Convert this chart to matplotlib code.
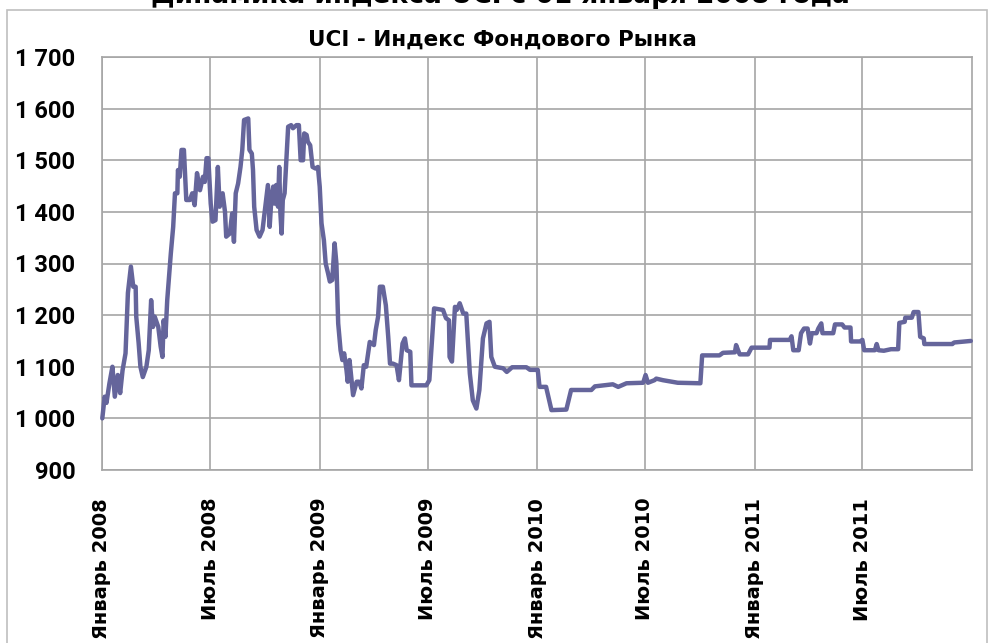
import matplotlib
matplotlib.use('Agg')
import matplotlib.pyplot as plt
from matplotlib.patches import Rectangle
import pandas as pd

# UCI index, values
dates = [
    '2008-01-02', '2008-01-06', '2008-01-09', '2008-01-14', '2008-01-19', '2008-01-23',
    '2008-01-28', '2008-02-01', '2008-02-05', '2008-02-10', '2008-02-14', '2008-02-19',
    '2008-02-23', '2008-02-27', '2008-02-28', '2008-03-03', '2008-03-06', '2008-03-10',
    '2008-03-16', '2008-03-20', '2008-03-24', '2008-03-27', '2008-03-30', '2008-04-05',
    '2008-04-09', '2008-04-12', '2008-04-14', '2008-04-17', '2008-04-20', '2008-04-23',
    '2008-04-26', '2008-04-30', '2008-05-03', '2008-05-07', '2008-05-08', '2008-05-11',
    '2008-05-14', '2008-05-18', '2008-05-22', '2008-05-28', '2008-06-01', '2008-06-05',
    '2008-06-09', '2008-06-14', '2008-06-19', '2008-06-22', '2008-06-25', '2008-06-28',
    '2008-07-02', '2008-07-05', '2008-07-10', '2008-07-14', '2008-07-17', '2008-07-22',
    '2008-07-26', '2008-07-28', '2008-08-03', '2008-08-07', '2008-08-10', '2008-08-13',
    '2008-08-17', '2008-08-21', '2008-08-24', '2008-08-27', '2008-09-03', '2008-09-05',
    '2008-09-09', '2008-09-11', '2008-09-13', '2008-09-17', '2008-09-22', '2008-09-27',
    '2008-10-01', '2008-10-03', '2008-10-06', '2008-10-09', '2008-10-12', '2008-10-15',
    '2008-10-17', '2008-10-20', '2008-10-23', '2008-10-25', '2008-10-27', '2008-10-29',
    '2008-10-31', '2008-11-03', '2008-11-06', '2008-11-09', '2008-11-14', '2008-11-17',
    '2008-11-23', '2008-11-27', '2008-11-30', '2008-12-04', '2008-12-06', '2008-12-10',
    '2008-12-12', '2008-12-16', '2008-12-20', '2008-12-25', '2008-12-29', '2009-01-01',
    '2009-01-04', '2009-01-08', '2009-01-11', '2009-01-15', '2009-01-18', '2009-01-22',
    '2009-01-26', '2009-01-29', '2009-02-01', '2009-02-05', '2009-02-08', '2009-02-11',
    '2009-02-15', '2009-02-17', '2009-02-20', '2009-02-26', '2009-03-04', '2009-03-08',
    '2009-03-12', '2009-03-16', '2009-03-20', '2009-03-26', '2009-04-02', '2009-04-05',
    '2009-04-09', '2009-04-12', '2009-04-17', '2009-04-22', '2009-04-26', '2009-04-29',
    '2009-05-04', '2009-05-10', '2009-05-14', '2009-05-17', '2009-05-20', '2009-05-24',
    '2009-05-27', '2009-06-02', '2009-06-04', '2009-06-29', '2009-07-04', '2009-07-08',
    '2009-07-12', '2009-07-27', '2009-08-01', '2009-08-06', '2009-08-07', '2009-08-11',
    '2009-08-16', '2009-08-19', '2009-08-24', '2009-08-30', '2009-09-04', '2009-09-10',
    '2009-09-15', '2009-09-21', '2009-09-26', '2009-10-02', '2009-10-08', '2009-10-13',
    '2009-10-16', '2009-10-22', '2009-11-05', '2009-11-11', '2009-11-20', '2009-12-14',
    '2009-12-20', '2010-01-02', '2010-01-05', '2010-01-16', '2010-01-25', '2010-02-19',
    '2010-02-27', '2010-04-02', '2010-04-08', '2010-05-08', '2010-05-17', '2010-05-31',
    '2010-06-28', '2010-07-02', '2010-07-06', '2010-07-17', '2010-07-20', '2010-07-31',
    '2010-08-25', '2010-10-02', '2010-10-05', '2010-11-03', '2010-11-09', '2010-11-29',
    '2010-12-01', '2010-12-07', '2010-12-21', '2010-12-27', '2011-01-26', '2011-01-27',
    '2011-03-01', '2011-03-04', '2011-03-07', '2011-03-16', '2011-03-20', '2011-03-25',
    '2011-03-31', '2011-04-04', '2011-04-07', '2011-04-15', '2011-04-18', '2011-04-23',
    '2011-04-25', '2011-05-13', '2011-05-16', '2011-05-28', '2011-06-01', '2011-06-11',
    '2011-06-12', '2011-06-27', '2011-07-01', '2011-07-04', '2011-07-22', '2011-07-25',
    '2011-07-28', '2011-08-06', '2011-08-18', '2011-08-30', '2011-09-01', '2011-09-10',
    '2011-09-11', '2011-09-22', '2011-09-25', '2011-10-03', '2011-10-06', '2011-10-12',
    '2011-10-13', '2011-11-29', '2011-12-02', '2011-12-11', '2011-12-30',
]
values = [
    1000, 1042, 1030, 1068, 1100, 1042, 1084, 1049, 1093, 1126, 1243, 1294,
    1255, 1255, 1197, 1146, 1100, 1080, 1100, 1132, 1229, 1177, 1197, 1177,
    1139, 1119, 1190, 1158, 1229, 1274, 1319, 1371, 1436, 1436, 1481, 1468,
    1520, 1520, 1423, 1423, 1436, 1413, 1475, 1442, 1468, 1458, 1504, 1504,
    1416, 1381, 1384, 1487, 1410, 1436, 1400, 1352, 1358, 1397, 1342, 1436,
    1455, 1487, 1520, 1578, 1581, 1520, 1513, 1481, 1410, 1365, 1352, 1365,
    1404, 1423, 1452, 1371, 1429, 1449, 1416, 1452, 1410, 1487, 1397, 1358,
    1423, 1436, 1500, 1565, 1568, 1562, 1568, 1568, 1500, 1500, 1552, 1549,
    1536, 1529, 1487, 1484, 1487, 1449, 1378, 1345, 1300, 1281, 1265, 1268,
    1339, 1300, 1184, 1132, 1113, 1126, 1093, 1071, 1113, 1045, 1071, 1071,
    1058, 1103, 1100, 1148, 1142, 1171, 1197, 1255, 1255, 1219, 1158, 1106,
    1106, 1103, 1074, 1110, 1145, 1155, 1132, 1129, 1064, 1064, 1074, 1145,
    1213, 1210, 1194, 1190, 1119, 1110, 1216, 1210, 1223, 1203, 1203, 1087,
    1035, 1019, 1055, 1155, 1184, 1187, 1119, 1100, 1097, 1090, 1099, 1099,
    1094, 1094, 1061, 1061, 1016, 1017, 1055, 1055, 1062, 1066, 1061, 1068,
    1069, 1084, 1069, 1074, 1077, 1074, 1069, 1068, 1122, 1122, 1127, 1128,
    1142, 1124, 1124, 1137, 1137, 1152, 1152, 1159, 1132, 1132, 1165, 1174,
    1174, 1145, 1165, 1165, 1174, 1184, 1165, 1165, 1182, 1182, 1176, 1176,
    1149, 1149, 1152, 1132, 1132, 1144, 1132, 1131, 1134, 1134, 1185, 1187,
    1195, 1195, 1206, 1206, 1158, 1155, 1144, 1144, 1147, 1148, 1150,
]

x_ticks = ['2008-01-01', '2008-07-01', '2009-01-01', '2009-07-01',
           '2010-01-01', '2010-07-01', '2011-01-01', '2011-07-01']
x_labels = ['Январь 2008', 'Июль 2008', 'Январь 2009', 'Июль 2009',
            'Январь 2010', 'Июль 2010', 'Январь 2011', 'Июль 2011']
y_ticks = [900, 1000, 1100, 1200, 1300, 1400, 1500, 1600, 1700]
y_labels = ['900', '1 000', '1 100', '1 200', '1 300', '1 400', '1 500', '1 600', '1 700']

line_color = '#65659b'
grid_color = '#a6a6a6'

fig = plt.figure(figsize=(9.9, 6.43), dpi=100)
ax = fig.add_axes([101.7 / 990, 1 - 470 / 643, (972 - 101.7) / 990, (470 - 57) / 643])

ax.plot(pd.to_datetime(dates), values, color=line_color, lw=3.2,
        solid_joinstyle='round', solid_capstyle='round', clip_on=False, zorder=3)

ax.set_xlim(pd.Timestamp('2008-01-01'), pd.Timestamp('2012-01-01'))
ax.set_ylim(900, 1700)
ax.set_xticks(pd.to_datetime(x_ticks))
ax.set_xticklabels(x_labels, rotation=90, fontsize=14, fontweight='bold',
                   family=['DejaVu Sans'], va='top', ha='center')
ax.set_yticks(y_ticks)
ax.set_yticklabels(y_labels, fontsize=17, fontweight='bold', family=['Roboto', 'DejaVu Sans'])
ax.tick_params(axis='x', length=0, pad=20)
ax.tick_params(axis='y', length=0, pad=19)

ax.grid(True, color=grid_color, lw=1.2)
ax.set_axisbelow(True)
for s in ax.spines.values():
    s.set_color(grid_color)
    s.set_linewidth(1.2)

# chart title, centred on the whole chart area as in the source
fig.text(502 / 990, 1 - 40 / 643, 'UCI - Индекс Фондового Рынка', ha='center', va='center',
         fontsize=15.5, fontweight='bold', family=['DejaVu Sans'])

# outer heading, cut by the top edge in the source
fig.text(500 / 990, 1 - 3 / 643, 'Динамика индекса UCI с 01 января 2008 года',
         ha='center', va='baseline', fontsize=19, fontweight='bold', family=['DejaVu Sans'])

fig.patches.append(Rectangle((7 / 990, -0.1), 980 / 990, 1.1 - 10 / 643,
                             transform=fig.transFigure, fill=False,
                             edgecolor='#bfbfbf', lw=1.2))

fig.savefig('out.png', dpi=100)
